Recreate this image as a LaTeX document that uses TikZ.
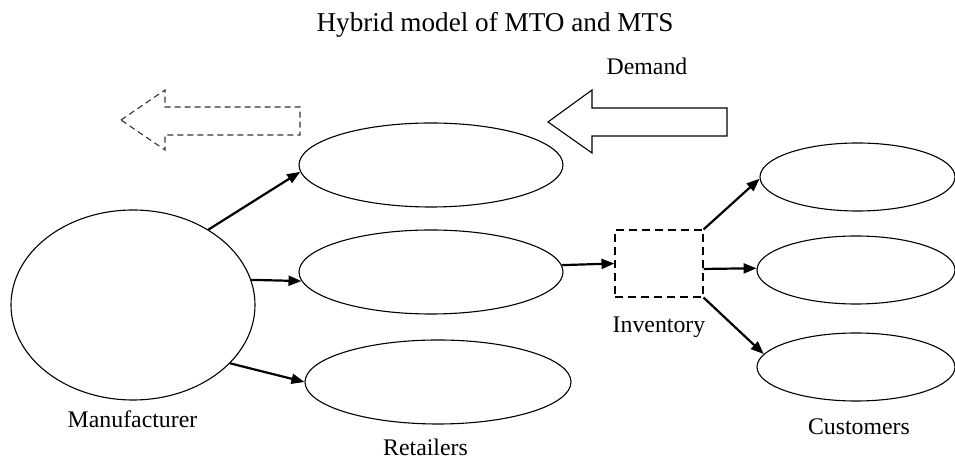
\documentclass[tikz,border=0pt]{standalone}
\usepackage{fontspec}
\setmainfont{Liberation Serif}
\usetikzlibrary{shapes.geometric,arrows.meta}
\begin{document}
\begin{tikzpicture}[x=0.5pt,y=-0.5pt,
  elli/.style={draw,ellipse,inner sep=0pt,line width=0.55pt},
  conn/.style={line width=1.1pt,-{Triangle[length=6.5pt,width=5pt]}},
  lbl/.style={font=\fontsize{11.9}{14}\selectfont,inner sep=0pt,anchor=base},
  blockarrow/.style={line width=0.55pt,line join=miter},
  ]
\useasboundingbox (0,0) rectangle (955,459);
\clip (0,0) rectangle (955,459);
% nodes
\node[elli,minimum width=122pt,minimum height=95pt] (man) at (133,305) {};
\node[elli,minimum width=132pt,minimum height=42pt] (r1) at (431,165) {};
\node[elli,minimum width=132pt,minimum height=42pt] (r2) at (431,272) {};
\node[elli,minimum width=133pt,minimum height=42pt] (r3) at (438,382) {};
\node[draw,dashed,dash pattern=on 4pt off 2.5pt,line width=0.55pt,minimum width=44pt,minimum height=33.5pt,inner sep=0pt] (inv) at (659,263.5) {};
\node[elli,minimum width=97.5pt,minimum height=34pt] (c1) at (857.5,177) {};
\node[elli,minimum width=99pt,minimum height=34pt] (c2) at (856,270) {};
\node[elli,minimum width=99pt,minimum height=34pt] (c3) at (856,367) {};
% labels
\node[lbl,font=\fontsize{13.6}{16}\selectfont] (title) at (495,32) {Hybrid model of MTO and MTS};
\node[lbl] (dem) at (647,75) {Demand};
\node[lbl] (invl) at (659,333) {Inventory};
\node[lbl] (manl) at (132.5,428) {Manufacturer};
\node[lbl] (retl) at (425.5,456) {Retailers};
\node[lbl] (cusl) at (859,435) {Customers};
% block arrows
\draw[blockarrow] (548,122) -- (592,90) -- (592,108) -- (727,108) -- (727,136) -- (592,136) -- (592,153) -- cycle;
\draw[blockarrow,dashed,dash pattern=on 3pt off 2pt,draw=black!80] (121,120) -- (165,90) -- (165,107) -- (300,107) -- (300,135) -- (165,135) -- (165,150) -- cycle;
% connectors
\draw[conn] (man.45) -- (r1.183);
\draw[conn] (man.12) -- (r2.184);
\draw[conn] (man.-31) -- (r3.180);
\draw[conn] (r2.3) -- (inv.west);
\draw[conn] (inv.north east) -- (c1.181);
\draw[conn] (inv.-7) -- (c2.179);
\draw[conn] (inv.south east) -- (c3.172);
\end{tikzpicture}
\end{document}
